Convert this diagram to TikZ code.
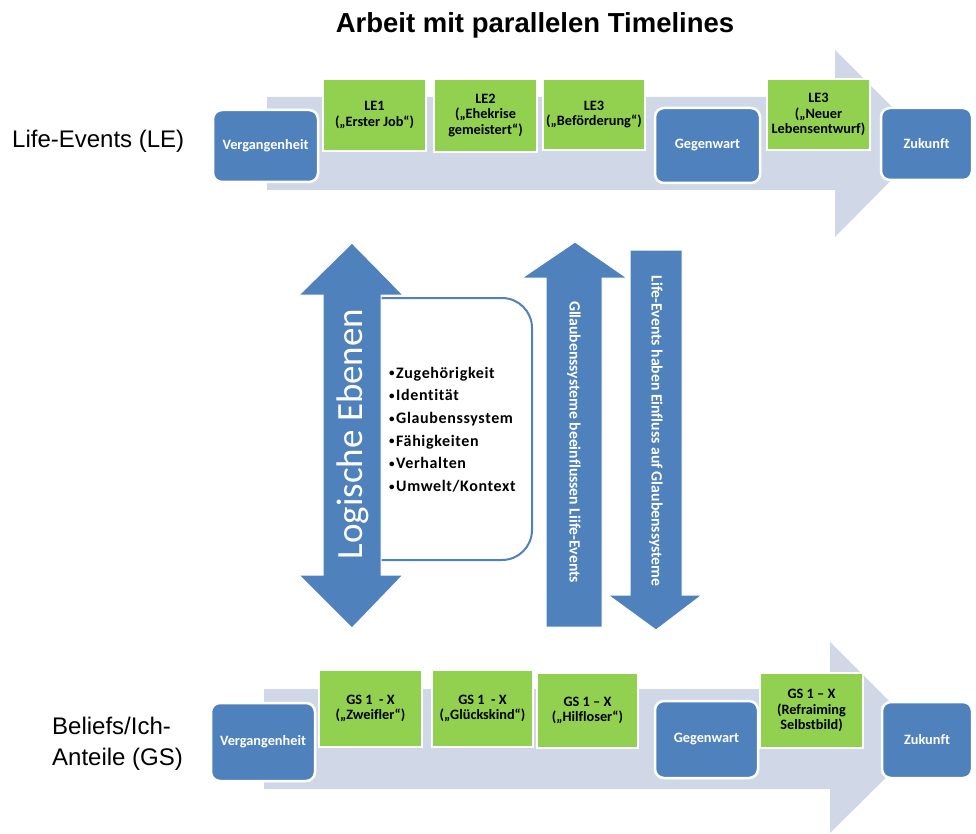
\documentclass[tikz,border=0pt]{standalone}
\usepackage{fontspec}
\setmainfont{Liberation Sans}
\newfontfamily\carlito[Ligatures=NoCommon]{Carlito}
\newfontfamily\carlitow[Ligatures=NoCommon,LetterSpace=4]{Carlito}
\definecolor{ablue}{RGB}{79,129,189}
\definecolor{agreen}{RGB}{146,208,80}
\definecolor{alight}{RGB}{208,216,232}
\tikzset{
  bluebox/.style={rectangle, rounded corners=9pt, fill=ablue, draw=white, line width=2.5pt,
    text=white, align=center, inner sep=0pt, font=\carlito\bfseries\fontsize{14.3}{15.5}\selectfont},
  greenbox/.style={rectangle, fill=agreen, draw=white, line width=1.5pt, text=black,
    align=center, inner sep=0pt, font=\carlito\bfseries\fontsize{14.3}{15.5}\selectfont},
  bigarrow/.style={fill=alight, draw=none},
  barrow/.style={fill=ablue, draw=white, line width=1pt},
  sidelabel/.style={font=\fontsize{24}{31}\selectfont, align=left, inner sep=0pt},
  rottext/.style={text=white, font=\carlito\bfseries\fontsize{15.7}{18}\selectfont, inner sep=0pt}
}
\newcommand{\smallbul}{\raisebox{1.2pt}{\fontsize{11}{11}\selectfont •}\kern1.5pt}
\begin{document}
\begin{tikzpicture}[x=1pt,y=-1pt]
\useasboundingbox (0,0) rectangle (976,834);
% title
\node[font=\bfseries\fontsize{27.5}{30}\selectfont, inner sep=0pt] (title) at (535,25) {Arbeit mit parallelen Timelines};
% side labels
\node[sidelabel, anchor=west] (lelabel) at (12,141) {Life-Events (LE)};
\node[sidelabel, anchor=west] (gslabel) at (52,744) {Beliefs/Ich-\\Anteile (GS)};
% big light timeline arrows
\path[bigarrow] (267,97) -- (835,97) -- (835,50) -- (928,143) -- (835,237) -- (835,190) -- (267,190) -- cycle;
\path[bigarrow] (264,689) -- (830,689) -- (830,642) -- (926,738) -- (830,833) -- (830,789) -- (264,789) -- cycle;
% top timeline boxes
\node[greenbox, minimum width=103pt, minimum height=72pt] (le1) at (374.5,115) {LE1\\(„Erster Job“)};
\node[greenbox, minimum width=103pt, minimum height=73pt] (le2) at (485.5,115.5) {LE2\\(„Ehekrise\\gemeistert“)};
\node[greenbox, minimum width=102pt, minimum height=71pt] (le3) at (594,114.5) {LE3\\(„Beförderung“)};
\node[greenbox, minimum width=103pt, minimum height=71pt] (le4) at (818.5,114.5) {LE3\\(„Neuer\\Lebensentwurf)};
\node[bluebox, minimum width=105pt, minimum height=72pt] (v1) at (265.5,146) {Vergangenheit};
\node[bluebox, minimum width=105pt, minimum height=75pt] (g1) at (707.5,145.5) {Gegenwart};
\node[bluebox, minimum width=91pt, minimum height=72pt] (z1) at (926.5,144) {Zukunft};
% bottom timeline boxes
\node[greenbox, minimum width=103pt, minimum height=77pt] (gs1) at (370.5,708.5) {GS 1 \ - X\\(„Zweifler“)};
\node[greenbox, minimum width=101pt, minimum height=77pt] (gs2) at (482.5,708.5) {GS 1 \ - X\\(„Glückskind“)};
\node[greenbox, minimum width=101pt, minimum height=75pt] (gs3) at (587.5,710.5) {GS 1 – X\\(„Hilfloser“)};
\node[greenbox, minimum width=103pt, minimum height=75pt] (gs4) at (811.5,710.5) {GS 1 – X\\(Refraiming\\Selbstbild)};
\node[bluebox, minimum width=104pt, minimum height=78pt] (v2) at (263,742) {Vergangenheit};
\node[bluebox, minimum width=103pt, minimum height=77pt] (g2) at (706.5,739.5) {Gegenwart};
\node[bluebox, minimum width=90pt, minimum height=76pt] (z2) at (927,740) {Zukunft};
% logical levels box
\draw[draw=ablue, fill=white, line width=2pt, rounded corners=30pt] (340,298) rectangle (532,560);
\node[anchor=west, align=left, inner sep=0pt, font=\carlitow\bfseries\fontsize{16}{22.7}\selectfont] (list) at (389,429.5)
  {\smallbul Zugehörigkeit\\\smallbul Identität\\\smallbul Glaubenssystem\\\smallbul Fähigkeiten\\\smallbul Verhalten\\\smallbul Umwelt/Kontext};
% Logische Ebenen double arrow
\path[barrow] (352,243) -- (403,295) -- (381,295) -- (381,575) -- (403,575) -- (352,628) -- (299,575) -- (323,575) -- (323,295) -- (299,295) -- cycle;
\node[text=white, rotate=90, inner sep=0pt, font=\carlito\fontsize{37}{40}\selectfont] (le) at (353,434) {Logische Ebenen};
% up arrow
\path[barrow] (546,627) -- (546,278) -- (522,278) -- (575,242) -- (627,278) -- (602,278) -- (602,627) -- cycle;
\node[rottext, rotate=-90] (up) at (574,442) {Gllaubenssysteme beeinflussen Liife-Events};
% down arrow
\path[barrow] (630,250) -- (682,250) -- (682,595) -- (702,595) -- (656,630) -- (608,595) -- (630,595) -- cycle;
\node[rottext, rotate=-90] (down) at (656,431) {Life-Events haben Einfluss auf Glaubenssysteme};
\end{tikzpicture}
\end{document}
